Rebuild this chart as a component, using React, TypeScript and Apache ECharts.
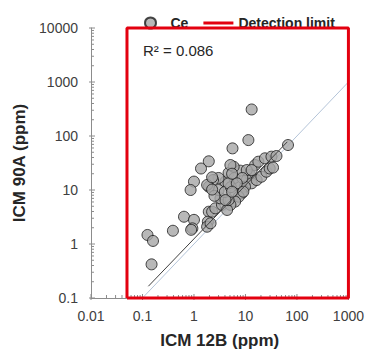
import React, { useEffect, useRef } from "react";
import * as echarts from "echarts";

const ceX = [0.125, 0.16, 0.15, 0.39, 0.64, 1.0, 0.93, 0.88, 1.94, 1.86, 1.8, 2.1, 2.25, 2.6, 3.5, 3.27, 3.0, 5.9, 6.8, 4.07, 4.7, 7.9, 5.9, 3.0, 2.35, 1.94, 1.8, 1.0, 0.86, 1.37, 1.94, 5.6, 11.4, 13.2, 15.4, 17.8, 23.9, 32, 40, 67, 12.3, 10.6, 13.2, 16.5, 20.4, 25.5, 29.6, 34.3, 9.8, 8.5, 7.4, 6.3, 5.1, 4.4, 4.7, 10.6, 13.2, 6.1, 8.7, 3.97, 5.2, 2.5, 2.25, 4.7, 6.8, 2.25, 4.1, 5.5, 9.1, 5.1, 5.5];
const ceY = [1.47, 1.14, 0.42, 1.76, 3.2, 2.8, 1.95, 1.83, 3.96, 2.59, 2.09, 2.42, 3.96, 4.58, 5.3, 7.0, 10, 8.1, 12.4, 14.3, 20.7, 22.8, 27, 16.7, 15.3, 11.5, 12.4, 14.3, 10, 25, 34, 59, 84, 310, 29, 33.4, 38.6, 41.4, 42.6, 68, 19, 15.3, 13.3, 15.3, 17.6, 21.8, 25, 26, 11.5, 8.7, 7.5, 6.1, 5.3, 4.27, 6.5, 23.4, 23.4, 16.7, 16.7, 9.2, 11.3, 7.8, 17.2, 13.3, 13.3, 10.2, 6.5, 9.3, 9.3, 29, 20];

const detectionX = [0.05, 0.05, 1000, 1000, 0.05];
const detectionY = [0.1, 10000, 10000, 0.1, 0.1];

const oneToOneX = [0.1, 1000];
const oneToOneY = [0.1, 1000];

const trendX = [0.13, 65];
const trendY = [0.165, 78];

const xTickLabels = ["0.01", "0.1", "1", "10", "100", "1000"];
const yTickLabels = ["0.1", "1", "10", "100", "1000", "10000"];
const xMajorTicks = [0.01, 0.1, 1, 10, 100, 1000];
const yMajorTicks = [0.1, 1, 10, 100, 1000, 10000];
const minorMultipliers = [2, 3, 4, 5, 6, 7, 8, 9];

const rSquaredText = "R² = 0.086";

const zip = (a: number[], b: number[]) => a.map((v, i) => [v, b[i]]);

const FONT = "'Liberation Sans', Arial, sans-serif";
const AXIS_COLOR = "#8c8c8c";

// tick marks: [value, axis (0 = x, 1 = y), major (1) / minor (0)]
const tickData: number[][] = [];
xMajorTicks.forEach((v, i) => {
  tickData.push([v, 0, 1]);
  if (i < xMajorTicks.length - 1) minorMultipliers.forEach((m) => tickData.push([v * m, 0, 0]));
});
yMajorTicks.forEach((v, i) => {
  tickData.push([v, 1, 1]);
  if (i < yMajorTicks.length - 1) minorMultipliers.forEach((m) => tickData.push([v * m, 1, 0]));
});

export default function App() {
  const ref = useRef<HTMLDivElement>(null);
  useEffect(() => {
    if (!ref.current) return;
    const chart = echarts.init(ref.current, undefined, { renderer: "svg" });
    const axisCommon = {
      type: "log" as const,
      logBase: 10,
      axisLine: { show: true, lineStyle: { color: AXIS_COLOR, width: 1 } },
      axisTick: { show: false },
      minorTick: { show: false },
      splitLine: { show: false },
      minorSplitLine: { show: false },
      nameLocation: "middle" as const,
      nameTextStyle: { fontFamily: FONT, fontWeight: "bold" as const, fontSize: 17, color: "#262626" },
    };
    const fmt = (labels: string[], ticks: number[]) => (v: number) => {
      const idx = ticks.findIndex((t) => Math.abs(Math.log10(t) - Math.log10(v)) < 1e-6);
      return idx >= 0 ? labels[idx] : "";
    };
    chart.setOption({
      animation: false,
      textStyle: { fontFamily: FONT },
      grid: { left: 91, right: 16, top: 28, bottom: 58, containLabel: false },
      legend: {
        data: [
          { name: "Ce", icon: "circle" },
          { name: "Detection limit", icon: "path://M0 0H30V3H0Z" },
        ],
        left: 139,
        top: 11,
        itemWidth: 30,
        itemHeight: 11,
        itemGap: 15,
        symbolKeepAspect: true,
        textStyle: { fontFamily: FONT, fontWeight: "bold", fontSize: 14, color: "#262626" },
      },
      xAxis: {
        ...axisCommon,
        min: 0.01,
        max: 1000,
        name: "ICM 12B (ppm)",
        nameGap: 34,
        axisLabel: { fontFamily: FONT, fontSize: 14, color: "#404040", margin: 11, formatter: fmt(xTickLabels, xMajorTicks) },
      },
      yAxis: {
        ...axisCommon,
        min: 0.1,
        max: 10000,
        name: "ICM 90A (ppm)",
        nameGap: 60,
        axisLabel: { fontFamily: FONT, fontSize: 14, color: "#404040", margin: 13, formatter: fmt(yTickLabels, yMajorTicks) },
      },
      graphic: [
        {
          type: "text",
          x: 143,
          y: 50,
          style: { text: rSquaredText, fontFamily: FONT, fontSize: 15, fill: "#262626", verticalAlign: "middle" },
        },
      ],
      series: [
        {
          name: "ticks",
          type: "custom",
          silent: true,
          clip: false,
          data: tickData,
          renderItem: (_params: any, api: any) => {
            const v = api.value(0);
            const isY = api.value(1) === 1;
            const major = api.value(2) === 1;
            if (isY) {
              const p = api.coord([0.01, v]);
              return {
                type: "line",
                shape: { x1: p[0] - (major ? 2 : 0), y1: p[1], x2: p[0] + (major ? 4 : 3), y2: p[1] },
                style: { stroke: AXIS_COLOR, lineWidth: 1 },
              };
            }
            const p = api.coord([v, 0.1]);
            return {
              type: "line",
              shape: { x1: p[0], y1: p[1] + (major ? 2 : 0), x2: p[0], y2: p[1] - (major ? 4 : 3) },
              style: { stroke: AXIS_COLOR, lineWidth: 1 },
            };
          },
          z: 0,
        },
        {
          name: "1:1",
          type: "line",
          data: zip(oneToOneX, oneToOneY),
          symbol: "none",
          lineStyle: { color: "#b4c4d8", width: 1 },
          z: 1,
        },
        {
          name: "Ce",
          type: "scatter",
          data: zip(ceX, ceY),
          symbol: "circle",
          symbolSize: 11,
          itemStyle: { color: "#a6a6a6", borderColor: "#1a1a1a", borderWidth: 1 },
          z: 2,
        },
        {
          name: "Trend",
          type: "line",
          data: zip(trendX, trendY),
          symbol: "none",
          lineStyle: { color: "#404040", width: 1 },
          z: 3,
        },
        {
          name: "Detection limit",
          type: "line",
          data: zip(detectionX, detectionY),
          symbol: "none",
          clip: false,
          lineStyle: { color: "#e3000f", width: 3 },
          itemStyle: { color: "#e3000f" },
          z: 4,
        },
      ],
    });
    return () => chart.dispose();
  }, []);
  return <div ref={ref} style={{ width: 367, height: 356, position: "absolute", left: 0, top: 0 }} />;
}
